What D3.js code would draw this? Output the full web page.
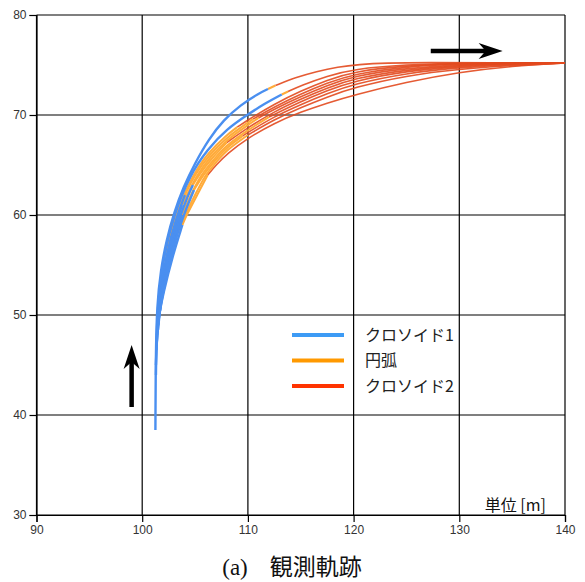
<!DOCTYPE html>
<html><head><meta charset="utf-8">
<script src="https://cdn.jsdelivr.net/npm/d3@7"></script>
<style>body{margin:0;background:#fff}svg{display:block}</style>
</head><body><svg id="c" width="585" height="582"></svg>
<script>
const xTicks = [90, 100, 110, 120, 130, 140];
const yTicks = [30, 40, 50, 60, 70, 80];
const legendLabels = ["クロソイド1", "円弧", "クロソイド2"];
const unitLabel = "単位 [m]";
const captionLabel = "(a)";
const captionTitle = "観測軌跡";

// clothoid 1 (blue) segments, one per trajectory, [x, y] in metres
const clothoid1Paths = [
  [[101.25,38.5],[101.28,46],[101.4,51],[101.75,54.5],[102.3,57.5],[103.0,60.2],[103.9,62.8],[105.0,65.2],[106.3,67.6],[107.7,69.5],[109.3,71.0],[111.0,72.15],[111.9,72.6]],
  [[101.3,44],[101.35,48],[101.55,52],[102.05,56],[103.0,60],[104.5,64],[106.2,66.6],[108,68.6],[110,70.05],[111.6,71.15],[113.2,72.05]],
  [[101.3,45],[101.4,48],[101.6,52],[101.95,55]],
  [[101.35,46.5],[101.42,48],[101.65,52],[102.25,56],[103.3,60],[104.05,62]],
  [[101.35,47],[101.45,48],[101.7,52],[102.35,56],[103.45,60],[103.78,61]],
  [[101.4,48],[101.75,52],[102.45,56],[103.6,60],[104.35,62],[104.8,63]],
  [[101.5,48.5],[101.8,52],[102.55,56],[103.75,60]],
  [[101.5,49],[101.85,52],[102.65,56],[103.9,60],[104.9,62.5]],
  [[101.55,49.5],[101.9,52],[102.75,56],[103.3,58]],
  [[101.6,50],[101.95,52],[102.9,56],[103.8,59]]
];
// circular arc (orange) segments
const arcPaths = [
  [[111.9,72.6],[112.6,72.95]],
  [[113.2,72.05],[113.8,72.35]],
  [[101.95,55],[102.15,56],[103.15,60],[104.75,64],[106.3,66.3],[108,68.0],[109,68.8]],
  [[104.05,62],[104.95,64],[106.4,66.1],[108,67.75],[110,69.25],[110.5,69.6]],
  [[103.78,61],[105.15,64],[106.5,65.9],[108,67.5],[110,69.0],[111,69.7]],
  [[104.8,63],[105.35,64],[106.6,65.7],[108,67.25]],
  [[103.75,60],[104.6,62],[105.55,64],[106.8,65.6],[108,67.0],[110,68.5],[112,69.8]],
  [[104.9,62.5],[105.75,64],[107,65.6],[108,66.75],[109.5,67.9]],
  [[103.3,58],[104.05,60],[105.0,62],[105.95,64],[107.1,65.4],[108,66.5],[110,68.0]],
  [[103.8,59],[104.2,60],[105.2,62],[106.2,64]]
];
// clothoid 2 (red) segments
const clothoid2Paths = [
  [[112.6,72.95],[114.5,73.75],[116.5,74.35],[118.5,74.8],[120.5,75.05],[123,75.2],[127,75.25],[133,75.22],[140,75.2]],
  [[113.8,72.35],[115,72.95],[117.5,73.9],[120,74.6],[125,75.05],[130,75.2],[135,75.2],[140,75.2]],
  [[109,68.8],[110,69.5],[112.5,71.1],[115,72.4],[117.5,73.5],[120,74.35],[125,74.95],[130,75.15],[135,75.2],[140,75.2]],
  [[110.5,69.6],[112.5,70.8],[115,72.1],[117.5,73.2],[120,74.1],[125,74.85],[130,75.1],[135,75.2],[140,75.2]],
  [[111,69.7],[112.5,70.6],[115,71.85],[117.5,72.95],[120,73.9],[125,74.7],[130,75.0],[135,75.2],[140,75.2]],
  [[108,67.25],[110,68.75],[112.5,70.35],[115,71.6],[117.5,72.7],[120,73.65],[125,74.55],[130,74.95],[135,75.15],[140,75.2]],
  [[112,69.8],[115,71.35],[117.5,72.45],[120,73.4],[125,74.4],[130,74.85],[135,75.1],[140,75.2]],
  [[109.5,67.9],[110,68.25],[112.5,69.85],[115,71.05],[117.5,72.15],[120,73.1],[125,74.2],[130,74.75],[135,75.05],[140,75.2]],
  [[110,68.0],[112.5,69.55],[115,70.75],[117.5,71.8],[120,72.75],[125,73.95],[130,74.6],[135,74.95],[140,75.2]],
  [[106.2,64],[107,65.0],[108,66.1],[110,67.7],[112.5,69.2],[115,70.3],[117.5,71.2],[120,72.0],[125,73.3],[130,74.3],[135,74.9],[140,75.2]]
];
// direction arrows (data coordinates): [x0, y0, x1, y1]
const arrowUp = [99.0, 40.8, 99.0, 47.0];
const arrowRight = [127.3, 76.4, 134.1, 76.4];

const svg = d3.select("#c");
const x = d3.scaleLinear().domain([90, 140]).range([36.5, 565]);
const y = d3.scaleLinear().domain([30, 80]).range([515, 15]);

// grid
const grid = svg.append("g").attr("stroke", "#000").attr("stroke-width", 1.2);
grid.selectAll("line.v").data(xTicks).join("line").attr("class","v")
  .attr("x1", d => x(d)).attr("x2", d => x(d)).attr("y1", y(30)).attr("y2", y(80));
grid.selectAll("line.h").data(yTicks).join("line").attr("class","h")
  .attr("y1", d => y(d)).attr("y2", d => y(d)).attr("x1", x(90)).attr("x2", x(140));

// axes
const axX = svg.append("g").attr("transform", `translate(0,${y(30)})`)
  .call(d3.axisBottom(x).tickValues(xTicks).tickSize(7).tickPadding(3).tickFormat(d3.format("d")));
const axY = svg.append("g").attr("transform", `translate(${x(90)},0)`)
  .call(d3.axisLeft(y).tickValues(yTicks).tickSize(7).tickPadding(3).tickFormat(d3.format("d")));
[axX, axY].forEach(a => {
  a.selectAll("path,line").attr("stroke", "#000").attr("stroke-width", 1.2);
  a.selectAll("text").attr("font-family", "Liberation Sans, Arial, sans-serif")
    .attr("font-size", 12).attr("fill", "#333");
});

// trajectories
const line = d3.line().x(d => x(d[0])).y(d => y(d[1])).curve(d3.curveBasis);
const plot = svg.append("g");
plot.selectAll("path.c2").data(clothoid2Paths).join("path").attr("class","c2")
  .attr("d", line).attr("fill", "none").attr("stroke", "#e2491e").attr("stroke-width", 1.6).attr("stroke-opacity", 0.9);
plot.selectAll("path.arc").data(arcPaths).join("path").attr("class","arc")
  .attr("d", line).attr("fill", "none").attr("stroke", "#ffab3a").attr("stroke-width", 2);
plot.selectAll("path.c1").data(clothoid1Paths).join("path").attr("class","c1")
  .attr("d", line).attr("fill", "none").attr("stroke", "#4a8ff0").attr("stroke-width", 2.4);

// arrows
function arrow(a) {
  const x0 = x(a[0]), y0 = y(a[1]), x1 = x(a[2]), y1 = y(a[3]);
  const ang = Math.atan2(y1 - y0, x1 - x0);
  const g = svg.append("g").attr("transform", `translate(${x1},${y1}) rotate(${ang * 180 / Math.PI})`);
  const len = Math.hypot(x1 - x0, y1 - y0);
  g.append("line").attr("x1", -len).attr("x2", -16).attr("y1", 0).attr("y2", 0)
    .attr("stroke", "#000").attr("stroke-width", 4.5);
  g.append("path").attr("d", "M0,0 L-24,-8 L-17,0 L-24,8 Z").attr("fill", "#000");
}
arrow(arrowUp);
arrow(arrowRight);

// legend
const legendColors = ["#3d9bf5", "#ff9900", "#ff3300"];
const lg = svg.append("g");
legendLabels.forEach((t, i) => {
  const ly = 335 + i * 25.5;
  lg.append("line").attr("x1", 292).attr("x2", 344).attr("y1", ly).attr("y2", ly)
    .attr("stroke", legendColors[i]).attr("stroke-width", 4);
  lg.append("text").attr("x", 365).attr("y", ly).attr("dy", "0.36em")
    .attr("font-family", "Noto Sans CJK JP, sans-serif").attr("font-size", 16).attr("fill", "#222").text(t);
});

// unit label
svg.append("text").attr("x", 546).attr("y", 511).attr("text-anchor", "end")
  .attr("font-family", "Noto Sans CJK JP, sans-serif").attr("font-size", 16).attr("fill", "#111").text(unitLabel);

// caption
const cap = svg.append("text").attr("x", 292).attr("y", 575).attr("text-anchor", "middle").attr("fill", "#111");
cap.append("tspan").attr("font-family", "Liberation Serif, serif").attr("font-size", 23).text(captionLabel);
cap.append("tspan").attr("dx", 22).attr("font-family", "Noto Sans CJK JP, sans-serif").attr("font-size", 23).text(captionTitle);
</script>
</body></html>
